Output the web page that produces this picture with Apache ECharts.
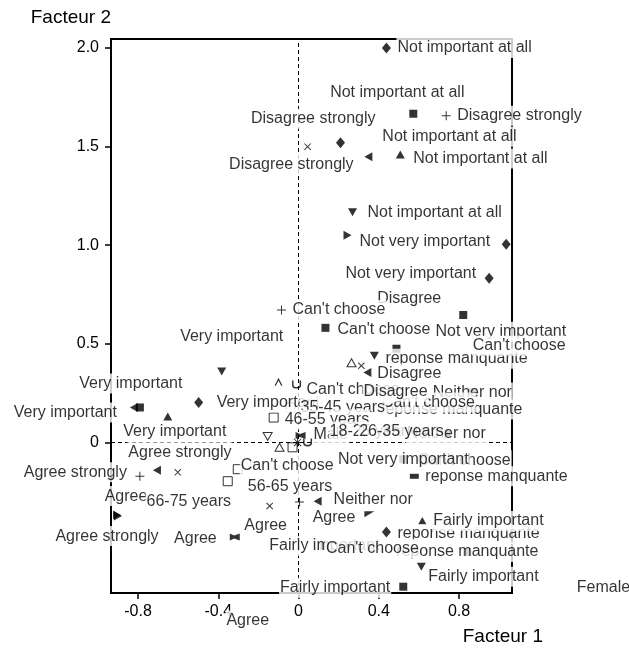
<!DOCTYPE html>
<html>
<head>
<meta charset="utf-8">
<script src="https://cdn.jsdelivr.net/npm/echarts@6/dist/echarts.min.js"></script>
<style>
  html, body { margin: 0; padding: 0; background: #fff; }
  #chart { width: 629px; height: 650px; }
</style>
</head>
<body>
<div id="chart"></div>
<script>
// Correspondence analysis: categories on the first two factors
const pointLabels = [
  "Not important at all", "Not important at all", "Disagree strongly", "Disagree strongly",
  "Disagree strongly", "Not important at all", "Not important at all", "Not important at all",
  "Not very important", "", "Not very important", "Disagree",
  "Can't choose", "Can't choose", "Very important", "Very important",
  "Very important", "Very important", "Not very important", "reponse manquante",
  "Can't choose", "", "Disagree", "Very important",
  "reponse manquante", "Neither nor", "Can't choose", "35-45 years",
  "Can't choose", "Disagree", "46-55 years", "",
  "", "", "", "",
  "Male", "18-25 years", "Neither nor", "26-35 years",
  "Can't choose", "reponse manquante", "Not very important", "Agree strongly",
  "Agree strongly", "Agree", "66-75 years", "Agree strongly",
  "Can't choose", "56-65 years", "", "Neither nor",
  "Agree", "Agree", "Agree", "reponse manquante",
  "Fairly important", "reponse manquante", "Fairly important", "Can't choose",
  "Fairly important", "Fairly important", "Agree", "Female"
];
const factor1 = [
  0.438, 0.572, 0.736, 0.209,
  0.045, 0.348, 0.507, 0.269,
  0.244, 1.035, 0.950, 0.821,
  -0.085, 0.134, -0.383, -0.821,
  -0.791, -0.652, 0.488, 0.378,
  1.100, 0.313, 0.343, -0.498,
  0.761, 0.866, 0.647, -0.040,
  -0.010, 0.264, -0.124, -0.100,
  -0.154, -0.095, -0.030, -0.005,
  0.010, 0.045, 0.736, 0.513,
  0.826, 0.577, 0.522, -0.706,
  -0.791, -0.900, -0.602, -0.905,
  -0.303, -0.353, 0.005, 0.095,
  -0.144, -0.318, 0.353, 0.438,
  0.617, 0.841, 0.129, 0.368,
  0.612, 0.522, -0.343, 1.520
];
const factor2 = [
  2.000, 1.667, 1.657, 1.520,
  1.500, 1.449, 1.460, 1.167,
  1.051, 1.005, 0.833, 0.646,
  0.672, 0.581, 0.359, 0.177,
  0.177, 0.131, 0.475, 0.439,
  0.490, 0.389, 0.354, 0.202,
  0.167, 0.253, 0.202, 0.177,
  0.293, 0.404, 0.126, 0.308,
  0.030, -0.025, -0.025, 0.000,
  0.035, 0.000, 0.045, 0.053,
  -0.091, -0.172, -0.086, -0.141,
  -0.172, -0.374, -0.152, -0.369,
  -0.136, -0.197, -0.303, -0.298,
  -0.323, -0.480, -0.364, -0.455,
  -0.399, -0.556, -0.525, -0.540,
  -0.631, -0.732, -0.833, -0.737
];
const markerKinds = [
  "diamond", "square", "plus", "diamond",
  "cross", "triLeft", "triUp", "triDown",
  "triRight", "diamond", "diamond", "square",
  "plus", "square", "triDown", "triLeft",
  "square", "triUp", "square", "triDown",
  "square", "cross", "triLeft", "diamond",
  "square", "square", "square", "openSquare",
  "cup", "openTriUp", "openSquare", "caret",
  "openTriDown", "openTriUp", "openSquare", "star",
  "flag", "cup", "square", "square",
  "square", "bar", "square", "triLeft",
  "plus", "triRight", "cross", "triRight",
  "openSquare", "openSquare", "plus", "triLeft",
  "cross", "flag", "wedge", "diamond",
  "triUp", "square", "square", "square",
  "triDown", "square", "square", "square"
];

const xTicks = [-0.8, -0.4, 0, 0.4, 0.8];
const xTickLabels = ["-0.8", "-0.4", "0", "0.4", "0.8"];
const yTicks = [0, 0.5, 1, 1.5, 2];
const yTickLabels = ["0", "0.5", "1.0", "1.5", "2.0"];

// Label anchoring next to each marker: [text align, dx px, dy px]
const labelPlacement = [
  ["left", 10, 0], ["center", -16, -21], ["left", 10, 0], ["right", 36, -24],
  ["right", 47, 18], ["left", 13, -20], ["left", 12, 4], ["left", 14, 0],
  ["left", 11, 6], null, ["right", -12, -5], ["center", -54, -16],
  ["left", 10, 0], ["left", 11, 2], ["center", 10, -35], ["center", -3, -24],
  ["right", -22, 5], ["center", 7, 15], ["left", 38, -17], ["left", 10, 3],
  ["center", 0, 0], null, ["left", 9, 1], ["left", 17, 0],
  ["center", 0, 0], ["center", 0, 0], ["center", 0, 0], ["left", 9, 0],
  ["left", 9, 5], ["left", 11, 29], ["left", 10, 2], null,
  null, null, null, null,
  ["left", 12, -1], ["left", 21, -11], ["center", 0, 0], ["center", 0, 0],
  ["center", 0, 0], ["left", 10, 0], ["center", 0, 0], ["center", 23, -18],
  ["right", -12, -4], ["center", 8, -20], ["center", 11, 29], ["center", -10, 21],
  ["left", 2, -4], ["left", 19, 5], null, ["left", 15, -2],
  ["center", -4, 20], ["right", -17, 2], ["right", -13, 3], ["left", 10, 2],
  ["left", 10, 0], ["center", 0, 0], ["center", 0, 0], ["center", 0, 0],
  ["left", 6, 10], ["right", -12, 1], ["center", 18, 14], ["center", 0, 0]
];

const FONT = "'Liberation Sans', Arial, sans-serif";

const markerStyles = {
  diamond:     { symbol: 'diamond', size: [9, 11] },
  square:      { symbol: 'rect', size: 8 },
  plus:        { symbol: 'path://M4,0H5V9H4Z M0,4H9V5H0Z', size: 9 },
  cross:       { symbol: 'path://M0,0.7L0.7,0L7,6.3L6.3,7Z M6.3,0L7,0.7L0.7,7L0,6.3Z', size: 7 },
  triUp:       { symbol: 'triangle', size: [9, 8] },
  triDown:     { symbol: 'path://M0,0H10L5,9Z', size: [9, 8] },
  triLeft:     { symbol: 'path://M0,5L9,0V10Z', size: [8, 9] },
  triRight:    { symbol: 'path://M0,0L9,5L0,10Z', size: [8, 9] },
  openTriUp:   { symbol: 'triangle', size: [9, 8], open: true },
  openTriDown: { symbol: 'path://M0,0H10L5,9Z', size: [9, 8], open: true },
  openSquare:  { symbol: 'rect', size: 9, open: true },
  star:        { symbol: 'path://M4,0H5V9H4Z M0,4H9V5H0Z M0.5,1.2L1.2,0.5L8.5,7.8L7.8,8.5Z M7.8,0.5L8.5,1.2L1.2,8.5L0.5,7.8Z', size: 9 },
  flag:        { symbol: 'path://M0,0L4,2L9,0V7L4,5L0,7Z', size: [10, 7] },
  wedge:       { symbol: 'path://M0,0H10L0,6Z', size: [10, 6] },
  bar:         { symbol: 'rect', size: [9, 5] },
  caret:       { symbol: 'path://M0,7L4.5,0L9,7H7.5L4.5,2.5L1.5,7Z', size: [8, 8] },
  cup:         { symbol: 'path://M0,0H1.5V4Q1.5,6 4.5,6Q7.5,6 7.5,4V0H9V4Q9,7.5 4.5,7.5Q0,7.5 0,4Z', size: [9, 8] }
};

// One scatter series per marker shape
const kindOrder = [];
markerKinds.forEach(k => { if (!kindOrder.includes(k)) kindOrder.push(k); });

const markerSeries = kindOrder.map((kind, si) => {
  const st = markerStyles[kind];
  const data = [];
  markerKinds.forEach((k, i) => { if (k === kind) data.push([factor1[i], factor2[i]]); });
  const s = {
    type: 'scatter',
    name: kind,
    z: 3,
    silent: true,
    clip: true,
    symbol: st.symbol,
    symbolSize: st.size,
    itemStyle: st.open
      ? { color: '#fff', borderColor: '#000', borderWidth: 1 }
      : { color: '#000' },
    emphasis: { disabled: true },
    data: data
  };
  if (si === 0) {
    s.markLine = {
      silent: true,
      symbol: ['none', 'none'],
      label: { show: false },
      lineStyle: { color: '#000', width: 1, type: [4, 3] },
      emphasis: { disabled: true },
      animation: false,
      data: [{ xAxis: 0 }, { yAxis: 0 }]
    };
  }
  return s;
});

// Text labels drawn above all markers, on white boxes
const labelData = [];
pointLabels.forEach((text, i) => {
  const p = labelPlacement[i];
  if (!text || !p) return;
  labelData.push({
    value: [factor1[i], factor2[i]],
    label: {
      show: true,
      position: 'inside',
      formatter: text,
      align: p[0],
      verticalAlign: 'middle',
      offset: [p[1], p[2]]
    }
  });
});

const labelSeries = {
  type: 'scatter',
  name: 'labels',
  z: 6,
  silent: true,
  clip: false,
  symbol: 'rect',
  symbolSize: 1,
  itemStyle: { color: 'rgba(0,0,0,0)' },
  emphasis: { disabled: true },
  label: {
    show: true,
    color: '#000',
    fontSize: 16,
    fontFamily: FONT,
    backgroundColor: '#fff',
    padding: [2, 1],
    lineHeight: 16
  },
  data: labelData
};

const chart = echarts.init(document.getElementById('chart'), null, { renderer: 'canvas' });
chart.setOption({
  animation: false,
  backgroundColor: '#fff',
  grid: {
    left: 111, right: 117, top: 39, bottom: 57,
    show: true, borderColor: '#000', borderWidth: 2, backgroundColor: '#fff',
    containLabel: false, outerBoundsMode: 'none'
  },
  xAxis: {
    type: 'value',
    min: -0.935, max: 1.064,
    name: 'Facteur 1',
    nameLocation: 'end',
    nameGap: 31,
    nameTextStyle: { color: '#000', fontSize: 19, fontFamily: FONT, align: 'right', verticalAlign: 'top', padding: [34, 0, 0, 0] },
    axisLine: { show: true, onZero: false, lineStyle: { color: '#000', width: 2 } },
    axisTick: { show: true, length: 6, customValues: xTicks, lineStyle: { color: '#000', width: 1.5 } },
    axisLabel: {
      customValues: xTicks,
      formatter: v => xTickLabels[xTicks.findIndex(t => Math.abs(t - v) < 1e-9)],
      color: '#000', fontSize: 16, fontFamily: FONT, margin: 11
    },
    splitLine: { show: false }
  },
  yAxis: {
    type: 'value',
    min: -0.764, max: 2.046,
    name: 'Facteur 2',
    nameLocation: 'end',
    nameGap: 21,
    nameTextStyle: { color: '#000', fontSize: 19, fontFamily: FONT, align: 'right', verticalAlign: 'middle' },
    axisLine: { show: true, onZero: false, lineStyle: { color: '#000', width: 2 } },
    axisTick: { show: true, length: 6, customValues: yTicks, lineStyle: { color: '#000', width: 1.5 } },
    axisLabel: {
      customValues: yTicks,
      formatter: v => yTickLabels[yTicks.findIndex(t => Math.abs(t - v) < 1e-9)],
      color: '#000', fontSize: 16, fontFamily: FONT, margin: 12
    },
    splitLine: { show: false }
  },
  series: markerSeries.concat([labelSeries])
});
</script>
</body>
</html>
